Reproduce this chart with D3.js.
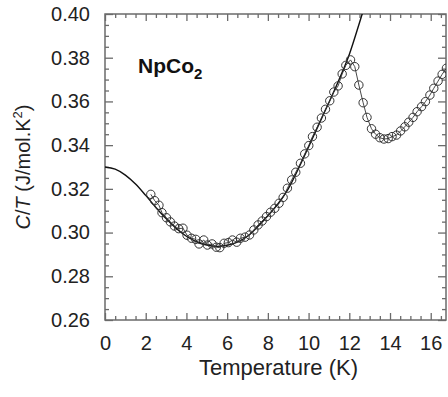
<!DOCTYPE html>
<html>
<head>
<meta charset="utf-8">
<script src="https://cdn.jsdelivr.net/npm/d3@7"></script>
<style>
  body { margin: 0; background: #fff; }
  svg { display: block; font-family: "Liberation Sans", Arial, sans-serif; }
</style>
</head>
<body>
<svg id="chart" width="448" height="397"></svg>
<script>
// measured points (open circles)
var tempData = [2.25, 2.44, 2.65, 2.8, 3.02, 3.21, 3.41, 3.62, 3.83, 4.03, 4.25, 4.46, 4.62, 4.85, 5.03, 5.26, 5.47, 5.64, 5.85, 6.06, 6.26, 6.47, 6.65, 6.88, 7.1, 7.31, 7.52, 7.72, 7.93, 8.13, 8.34, 8.55, 8.75, 8.96, 9.17, 9.37, 9.6, 9.81, 10.01, 10.19, 10.42, 10.63, 10.83, 11.04, 11.24, 11.45, 11.65, 11.83, 12.06, 12.27, 12.47, 12.68, 12.87, 13.09, 13.29, 13.5, 13.7, 13.91, 14.1, 14.32, 14.52, 14.73, 14.92, 15.13, 15.33, 15.55, 15.74, 15.96, 16.15, 16.36, 16.56, 16.77];
var ctData = [0.3175, 0.3146, 0.3125, 0.3091, 0.3068, 0.3049, 0.3030, 0.3018, 0.3020, 0.2988, 0.2974, 0.2969, 0.2948, 0.2966, 0.2943, 0.2948, 0.2933, 0.2931, 0.2951, 0.2954, 0.2966, 0.2956, 0.2974, 0.2979, 0.2989, 0.3012, 0.3035, 0.3053, 0.3073, 0.3093, 0.3111, 0.3134, 0.3161, 0.3203, 0.3241, 0.3276, 0.3317, 0.3360, 0.3398, 0.3439, 0.3482, 0.3524, 0.3564, 0.3603, 0.3643, 0.3671, 0.3726, 0.3765, 0.3790, 0.3759, 0.3675, 0.3594, 0.3527, 0.3475, 0.3450, 0.3434, 0.3428, 0.3430, 0.3439, 0.3446, 0.3465, 0.3484, 0.3505, 0.3527, 0.3553, 0.3576, 0.3599, 0.3629, 0.3660, 0.3693, 0.3724, 0.3752];

// fitted curve (solid line)
var tempFit = [0, 0.5, 1, 1.5, 2, 2.5, 3, 3.5, 4, 4.5, 5, 5.5, 6, 6.5, 7, 7.5, 8, 8.5, 9, 9.5, 10, 10.5, 11, 11.5, 12, 12.5, 12.8];
var ctFit = [0.3300, 0.3290, 0.3263, 0.3222, 0.3170, 0.3115, 0.3064, 0.3019, 0.2983, 0.2958, 0.2943, 0.2937, 0.2942, 0.2956, 0.2983, 0.3027, 0.3077, 0.3132, 0.3200, 0.3292, 0.3392, 0.3494, 0.3595, 0.3700, 0.3815, 0.3960, 0.4050];

var xTicks = [0, 2, 4, 6, 8, 10, 12, 14, 16];
var yTicks = [0.26, 0.28, 0.30, 0.32, 0.34, 0.36, 0.38, 0.40];

var svg = d3.select("#chart");
var margin = {top: 14, right: 2, bottom: 77, left: 105};
var width = 448 - margin.left - margin.right,
    height = 397 - margin.top - margin.bottom;

var g = svg.append("g").attr("transform", "translate(" + margin.left + "," + margin.top + ")");

var x = d3.scaleLinear().domain([0, 16.75]).range([0, width]);
var y = d3.scaleLinear().domain([0.26, 0.40]).range([height, 0]);

var xMinor = d3.range(0, 16.75, 0.5).filter(function(d) { return d % 2 != 0; });
var yMinor = d3.range(0.26, 0.4001, 0.005).filter(function(d) { return Math.abs(Math.round(d * 100) - d * 100) > 0.1 || Math.round(d * 100) % 2 != 0; });

var axisColor = "#6b6b6b";

function styleAxis(sel) {
    sel.select(".domain").remove();
    sel.selectAll("line").attr("stroke", axisColor).attr("stroke-width", 1.3);
    sel.selectAll("text").attr("fill", "#222").style("font-size", "20px");
}

// bottom
g.append("g").attr("transform", "translate(0," + height + ")")
    .call(d3.axisBottom(x).tickValues(xTicks).tickSize(-7).tickPadding(16).tickFormat(d3.format("d")))
    .call(styleAxis);
g.append("g").attr("transform", "translate(0," + height + ")")
    .call(d3.axisBottom(x).tickValues(xMinor).tickSize(-4).tickFormat(""))
    .call(styleAxis);
// top
g.append("g")
    .call(d3.axisTop(x).tickValues(xTicks).tickSize(-7).tickFormat(""))
    .call(styleAxis);
g.append("g")
    .call(d3.axisTop(x).tickValues(xMinor).tickSize(-4).tickFormat(""))
    .call(styleAxis);
// left
g.append("g")
    .call(d3.axisLeft(y).tickValues(yTicks).tickSize(-8).tickPadding(15).tickFormat(d3.format(".2f")))
    .call(styleAxis);
g.append("g")
    .call(d3.axisLeft(y).tickValues(yMinor).tickSize(-4).tickFormat(""))
    .call(styleAxis);
// right
g.append("g").attr("transform", "translate(" + width + ",0)")
    .call(d3.axisRight(y).tickValues(yTicks).tickSize(-8).tickFormat(""))
    .call(styleAxis);
g.append("g").attr("transform", "translate(" + width + ",0)")
    .call(d3.axisRight(y).tickValues(yMinor).tickSize(-4).tickFormat(""))
    .call(styleAxis);

// frame
g.append("rect")
    .attr("width", width).attr("height", height)
    .attr("fill", "none").attr("stroke", axisColor).attr("stroke-width", 1.5);

svg.append("clipPath").attr("id", "clip")
    .append("rect").attr("width", width).attr("height", height);

var plot = g.append("g").attr("clip-path", "url(#clip)");

var fitLine = d3.line()
    .x(function(d, i) { return x(tempFit[i]); })
    .y(function(d) { return y(d); })
    .curve(d3.curveMonotoneX);

plot.append("path")
    .datum(ctFit)
    .attr("d", fitLine)
    .attr("fill", "none")
    .attr("stroke", "#111")
    .attr("stroke-width", 1.4);

var dataLine = d3.line()
    .x(function(d, i) { return x(tempData[i]); })
    .y(function(d) { return y(d); });

plot.append("path")
    .datum(ctData)
    .attr("d", dataLine)
    .attr("fill", "none")
    .attr("stroke", "#333")
    .attr("stroke-width", 0.9);

plot.selectAll(".pt")
    .data(ctData)
    .enter().append("circle")
    .attr("class", "pt")
    .attr("cx", function(d, i) { return x(tempData[i]); })
    .attr("cy", function(d) { return y(d); })
    .attr("r", 4.2)
    .attr("fill", "none")
    .attr("stroke", "#333")
    .attr("stroke-width", 1);

// compound label
var lbl = g.append("text")
    .attr("x", 33).attr("y", 59)
    .attr("fill", "#111")
    .style("font-size", "21px")
    .style("font-weight", "bold");
lbl.append("tspan").text("NpCo");
lbl.append("tspan").attr("dy", 6).style("font-size", "15px").text("2");

// axis titles
svg.append("text")
    .attr("x", margin.left + width / 2 + 3)
    .attr("y", 375)
    .attr("text-anchor", "middle")
    .attr("fill", "#222")
    .style("font-size", "22px")
    .text("Temperature (K)");

var yt = svg.append("text")
    .attr("transform", "translate(30," + (margin.top + height / 2) + ") rotate(-90)")
    .attr("text-anchor", "middle")
    .attr("fill", "#222")
    .style("font-size", "20px");
yt.append("tspan").style("font-style", "italic").text("C");
yt.append("tspan").text("/");
yt.append("tspan").style("font-style", "italic").text("T");
yt.append("tspan").text(" (J/mol.K");
yt.append("tspan").attr("dy", -8).style("font-size", "13px").text("2");
yt.append("tspan").attr("dy", 8).text(")");
</script>
</body>
</html>
